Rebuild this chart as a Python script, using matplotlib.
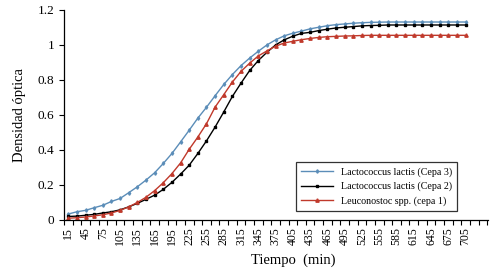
import numpy as np
import matplotlib.pyplot as plt

plt.rcParams['font.family'] = ['Liberation Serif', 'DejaVu Serif']

# tiempo (min), every 15 min
tiempo = list(range(15, 720, 15))

cepa3 = [0.034, 0.047, 0.055, 0.070, 0.084, 0.106, 0.123, 0.156, 0.190, 0.228,
         0.270, 0.323, 0.380, 0.446, 0.513, 0.582, 0.644, 0.710, 0.774, 0.831,
         0.882, 0.925, 0.964, 1.000, 1.029, 1.052, 1.067, 1.079, 1.092, 1.101,
         1.110, 1.116, 1.120, 1.124, 1.127, 1.129, 1.130, 1.131, 1.131, 1.131,
         1.131, 1.131, 1.131, 1.131, 1.131, 1.131, 1.131]

cepa2 = [0.020, 0.022, 0.027, 0.032, 0.040, 0.047, 0.058, 0.075, 0.095, 0.118,
         0.142, 0.175, 0.215, 0.262, 0.313, 0.380, 0.452, 0.531, 0.617, 0.706,
         0.782, 0.854, 0.911, 0.958, 1.000, 1.029, 1.050, 1.066, 1.072, 1.082,
         1.090, 1.097, 1.101, 1.105, 1.109, 1.111, 1.112, 1.114, 1.114, 1.114,
         1.114, 1.114, 1.114, 1.114, 1.114, 1.114, 1.114]

cepa1 = [0.010, 0.013, 0.017, 0.023, 0.030, 0.040, 0.055, 0.075, 0.100, 0.130,
         0.168, 0.213, 0.265, 0.326, 0.404, 0.474, 0.550, 0.645, 0.716, 0.788,
         0.849, 0.896, 0.937, 0.966, 0.993, 1.011, 1.021, 1.030, 1.037, 1.043,
         1.047, 1.049, 1.051, 1.052, 1.054, 1.055, 1.055, 1.055, 1.055, 1.055,
         1.055, 1.055, 1.055, 1.055, 1.055, 1.055, 1.055]

x = np.arange(len(tiempo))

fig = plt.figure(figsize=(5.0, 2.76), dpi=100)
ax = fig.add_axes([0.128, 0.203, 0.848, 0.761])

ax.plot(x, cepa3, color='#5b8db8', lw=1.0, marker='d', ms=1.8,
        label='Lactococcus lactis (Cepa 3)')
ax.plot(x, cepa2, color='black', lw=1.0, marker='s', ms=1.8,
        label='Lactococcus lactis (Cepa 2)')
ax.plot(x, cepa1, color='#c0392b', lw=1.0, marker='^', ms=2.4,
        label='Leuconostoc spp. (cepa 1)')

ax.set_xlim(-0.5, 48.6)
ax.set_ylim(0, 1.2)
ax.set_yticks([0, 0.2, 0.4, 0.6, 0.8, 1.0, 1.2])
ax.set_yticklabels(['0', '0.2', '0.4', '0.6', '0.8', '1', '1.2'])

ax.set_xticks(x[::2])
ax.set_xticklabels([str(t) for t in tiempo[::2]], rotation=90)
ax.set_xticks(np.arange(-0.5, 49, 1), minor=True)
ax.tick_params(axis='x', which='major', length=0, pad=5, labelsize=8.5)
ax.tick_params(axis='x', which='minor', length=3.5, width=0.8)
ax.tick_params(axis='y', length=3.5, width=0.8, labelsize=9.5)

for s in ['top', 'right']:
    ax.spines[s].set_visible(False)
for s in ['left', 'bottom']:
    ax.spines[s].set_linewidth(0.9)

ax.set_ylabel('Densidad óptica', fontsize=10.5, labelpad=8)
ax.set_xlabel('Tiempo  (min)', fontsize=10.5)
ax.xaxis.set_label_coords(0.54, -0.16)

leg = ax.legend(loc='upper right', bbox_to_anchor=(0.939, 0.299), fontsize=7.2,
                frameon=True, fancybox=False, edgecolor='black',
                handlelength=3.2, borderpad=0.5, labelspacing=0.5)
leg.get_frame().set_linewidth(0.9)

fig.savefig('out.png', dpi=100)
